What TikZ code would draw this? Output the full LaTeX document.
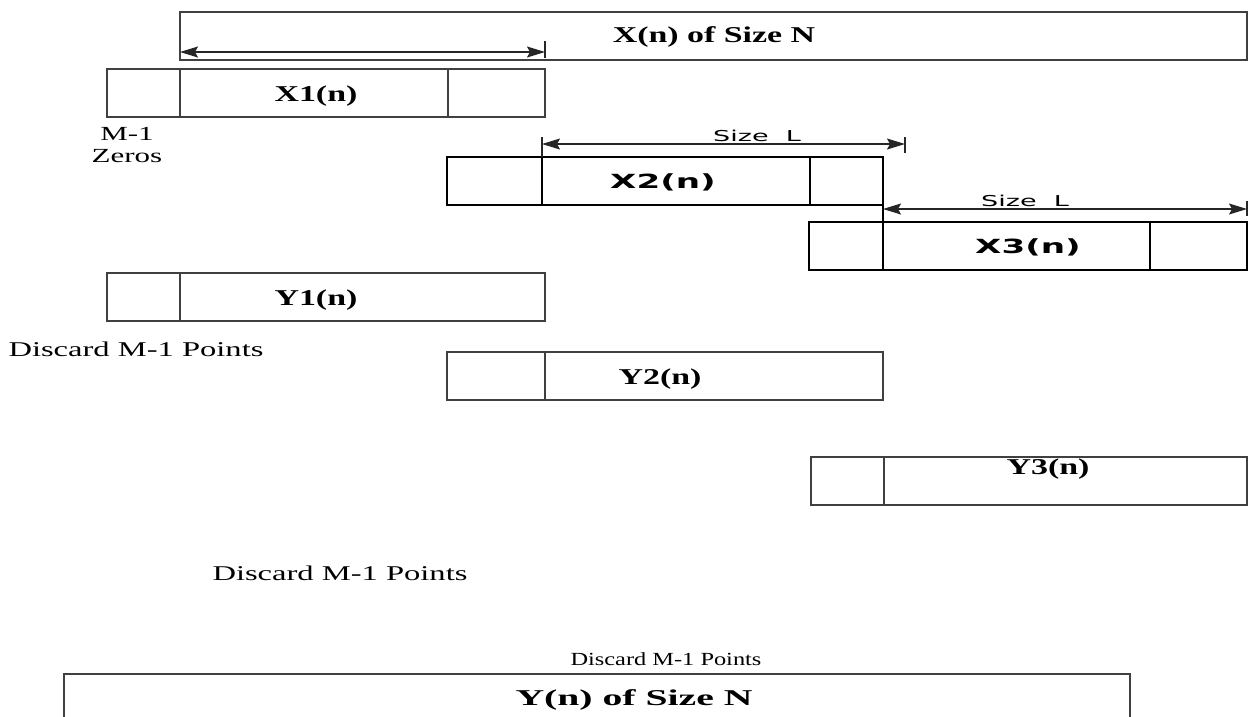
\documentclass[tikz,border=0pt]{standalone}
\usepackage{fontspec}
\setmainfont{Liberation Serif}
\newfontfamily\labelsans{DejaVu Sans}
\usetikzlibrary{arrows.meta}

\begin{document}
\begin{tikzpicture}[x=1pt, y=-1pt,
    thinbox/.style={draw=black!75, line width=1.4pt},
    thickbox/.style={draw=black, line width=2.3pt},
    boldlabel/.style={font=\fontsize{22.6}{26}\selectfont\bfseries, xscale=1.5, inner sep=0pt, anchor=base},
    plainlabel/.style={font=\fontsize{21}{22}\selectfont, xscale=1.55, inner sep=0pt, anchor=base, align=center},
    sanslabel/.style={font=\labelsans\fontsize{19.5}{22}\selectfont\bfseries, xscale=1.75, inner sep=0pt, anchor=base},
    sizelabel/.style={font=\labelsans\fontsize{15}{18}\selectfont, xscale=1.8, inner sep=0pt, anchor=base},
    dimarrow/.style={{Stealth[length=18pt,width=11pt,inset=3pt]}-{Stealth[length=18pt,width=11pt,inset=3pt]}, line width=1.4pt, draw=black!85, fill=black!85},
    dimtick/.style={line width=1.4pt, draw=black!85}]
  \useasboundingbox (0,0) rectangle (1250,716);

  % input sequence
  \draw[thinbox] (180,12) rectangle (1247,60);
  \node[boldlabel] (xall) at (714,42) {X(n) of Size N};

  % first block with M-1 zeros
  \draw[thinbox] (107,69) rectangle (545,117);
  \draw[thinbox] (180,69) -- (180,117) (448,69) -- (448,117);
  \node[boldlabel] (xone) at (316,101) {X1(n)};
  \node[plainlabel, font=\fontsize{20}{22}\selectfont] (zeros) at (127,162) {M-1\\Zeros};
  \coordinate (aonel) at (180,52);
  \coordinate (aoner) at (545,52);
  \draw[dimtick] (545,41) -- (545,58);
  \draw[dimarrow] (aonel) -- (aoner);

  % second block
  \draw[thickbox] (447,157) rectangle (883,205);
  \draw[thickbox] (542,157) -- (542,205) (810,157) -- (810,205);
  \node[sanslabel] (xtwo) at (663,188) {X2(n)};
  \coordinate (atwol) at (542,144);
  \coordinate (atwor) at (905,144);
  \draw[dimtick] (542,137) -- (542,157) (905,137) -- (905,153);
  \draw[dimarrow] (atwol) -- (atwor);
  \node[sizelabel] (sizetwo) at (757,141) {Size~~L};

  % third block
  \draw[thickbox] (809,222) rectangle (1247,270);
  \draw[thickbox] (883,222) -- (883,270) (1150,222) -- (1150,270);
  \node[sanslabel] (xthree) at (1028,253) {X3(n)};
  \coordinate (athreel) at (883,209);
  \coordinate (athreer) at (1247,209);
  \draw[thickbox] (883,205) -- (883,222);
  \draw[dimtick] (1247,201) -- (1247,216);
  \draw[dimarrow] (athreel) -- (athreer);
  \node[sizelabel] (sizethree) at (1025,206) {Size~~L};

  % output blocks
  \draw[thinbox] (107,273) rectangle (545,321);
  \draw[thinbox] (180,273) -- (180,321);
  \node[boldlabel] (yone) at (316,305) {Y1(n)};
  \node[plainlabel] (discone) at (136,356) {Discard M-1 Points};

  \draw[thinbox] (447,352) rectangle (883,400);
  \draw[thinbox] (545,352) -- (545,400);
  \node[boldlabel] (ytwo) at (660,384) {Y2(n)};

  \draw[thinbox] (811,457) rectangle (1247,505);
  \draw[thinbox] (884,457) -- (884,505);
  \node[boldlabel] (ythree) at (1048,474) {Y3(n)};

  \node[plainlabel] (disctwo) at (340,580) {Discard M-1 Points};
  \node[plainlabel, font=\fontsize{18.5}{20}\selectfont, xscale=0.85] (discthree) at (666,665) {Discard M-1 Points};

  % output sequence (cut at the bottom)
  \draw[thinbox] (64,722) -- (64,674) -- (1130,674) -- (1130,722);
  \node[boldlabel, xscale=1.17] (yall) at (634,705) {Y(n) of Size N};
\end{tikzpicture}
\end{document}
